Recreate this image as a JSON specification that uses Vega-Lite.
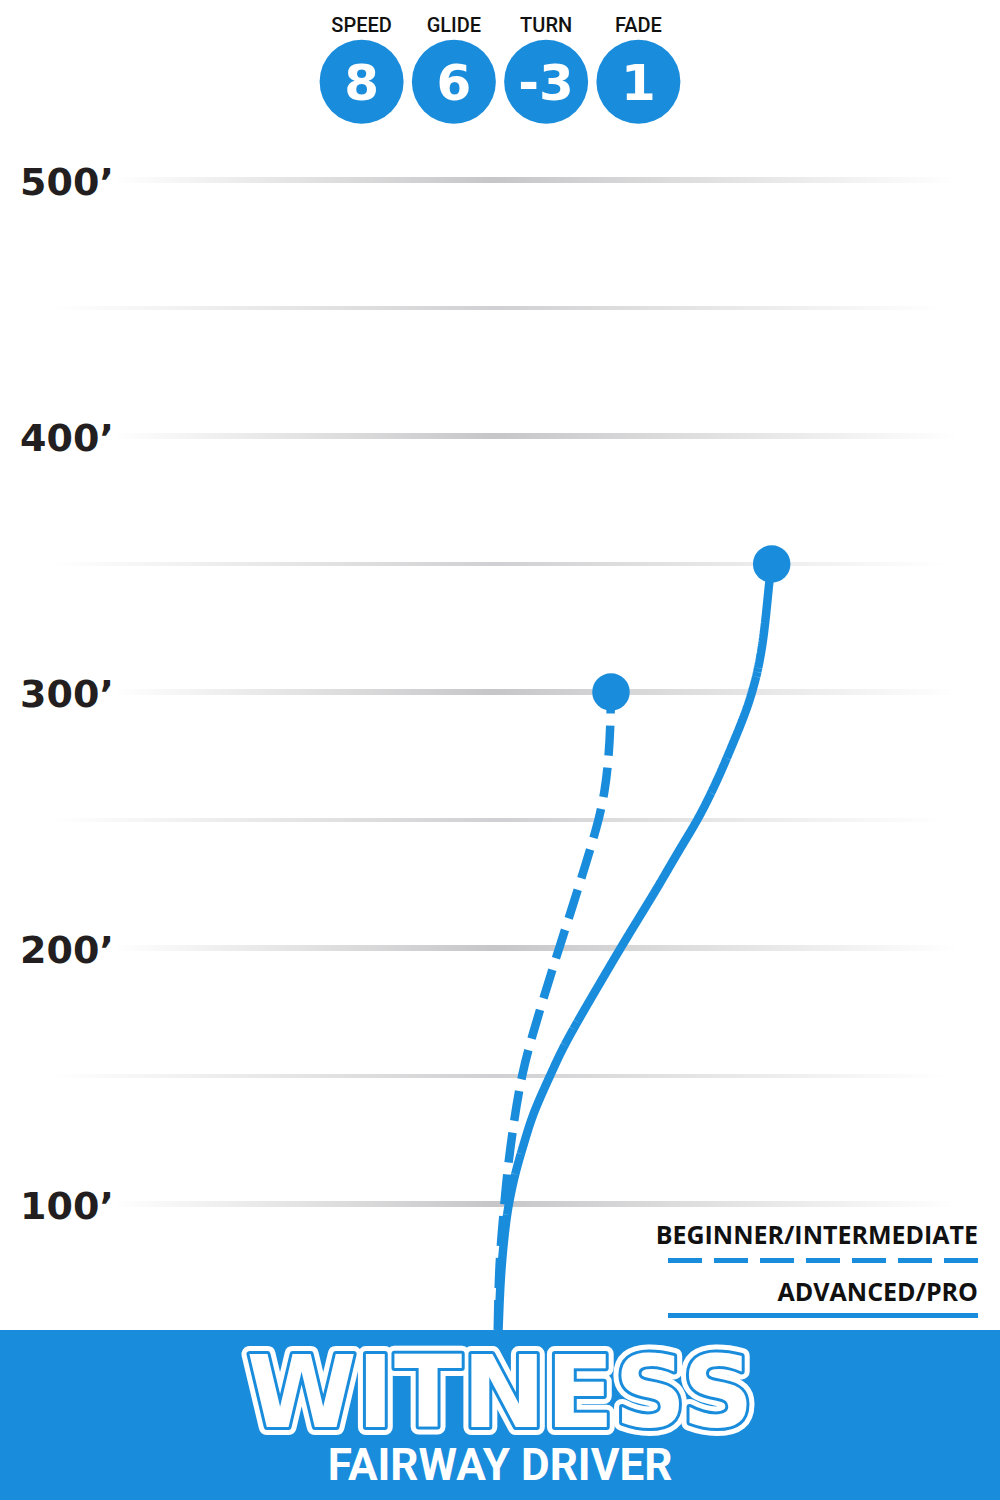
{
  "$schema": "https://vega.github.io/schema/vega-lite/v6.json",
  "width": 1000,
  "height": 1500,
  "autosize": {"type": "fit", "contains": "padding"},
  "padding": 0,
  "background": "#ffffff",
  "config": {"view": {"stroke": null}},
  "datasets": {
    "grid": [
      {"ft": 100, "major": true, "label": "100’"},
      {"ft": 150, "major": false, "label": ""},
      {"ft": 200, "major": true, "label": "200’"},
      {"ft": 250, "major": false, "label": ""},
      {"ft": 300, "major": true, "label": "300’"},
      {"ft": 350, "major": false, "label": ""},
      {"ft": 400, "major": true, "label": "400’"},
      {"ft": 450, "major": false, "label": ""},
      {"ft": 500, "major": true, "label": "500’"}
    ],
    "flight": [
      {"path": "Advanced/Pro", "i": 0, "lateral": 0.6, "distance": 50.8},
      {"path": "Advanced/Pro", "i": 1, "lateral": 1.17, "distance": 66.4},
      {"path": "Advanced/Pro", "i": 2, "lateral": 1.95, "distance": 78.1},
      {"path": "Advanced/Pro", "i": 3, "lateral": 3.13, "distance": 89.8},
      {"path": "Advanced/Pro", "i": 4, "lateral": 4.3, "distance": 98.8},
      {"path": "Advanced/Pro", "i": 5, "lateral": 7.03, "distance": 112.1},
      {"path": "Advanced/Pro", "i": 6, "lateral": 10.94, "distance": 125.0},
      {"path": "Advanced/Pro", "i": 7, "lateral": 14.06, "distance": 135.5},
      {"path": "Advanced/Pro", "i": 8, "lateral": 20.7, "distance": 150.0},
      {"path": "Advanced/Pro", "i": 9, "lateral": 25.27, "distance": 160.2},
      {"path": "Advanced/Pro", "i": 10, "lateral": 32.42, "distance": 173.0},
      {"path": "Advanced/Pro", "i": 11, "lateral": 40.23, "distance": 186.3},
      {"path": "Advanced/Pro", "i": 12, "lateral": 48.71, "distance": 200.8},
      {"path": "Advanced/Pro", "i": 13, "lateral": 59.77, "distance": 218.8},
      {"path": "Advanced/Pro", "i": 14, "lateral": 64.45, "distance": 226.6},
      {"path": "Advanced/Pro", "i": 15, "lateral": 71.88, "distance": 239.5},
      {"path": "Advanced/Pro", "i": 16, "lateral": 78.91, "distance": 250.8},
      {"path": "Advanced/Pro", "i": 17, "lateral": 86.13, "distance": 265.6},
      {"path": "Advanced/Pro", "i": 18, "lateral": 91.6, "distance": 278.5},
      {"path": "Advanced/Pro", "i": 19, "lateral": 97.07, "distance": 291.8},
      {"path": "Advanced/Pro", "i": 20, "lateral": 99.8, "distance": 300.4},
      {"path": "Advanced/Pro", "i": 21, "lateral": 101.95, "distance": 308.6},
      {"path": "Advanced/Pro", "i": 22, "lateral": 103.71, "distance": 318.4},
      {"path": "Advanced/Pro", "i": 23, "lateral": 104.88, "distance": 328.1},
      {"path": "Advanced/Pro", "i": 24, "lateral": 105.86, "distance": 337.9},
      {"path": "Advanced/Pro", "i": 25, "lateral": 106.45, "distance": 343.8},
      {"path": "Advanced/Pro", "i": 26, "lateral": 107.3, "distance": 350.0},
      {"path": "Beginner/Intermediate", "i": 0, "lateral": 0.3, "distance": 50.8},
      {"path": "Beginner/Intermediate", "i": 1, "lateral": 0.78, "distance": 76.2},
      {"path": "Beginner/Intermediate", "i": 2, "lateral": 2.34, "distance": 93.8},
      {"path": "Beginner/Intermediate", "i": 3, "lateral": 3.91, "distance": 112.1},
      {"path": "Beginner/Intermediate", "i": 4, "lateral": 6.64, "distance": 132.8},
      {"path": "Beginner/Intermediate", "i": 5, "lateral": 9.77, "distance": 151.2},
      {"path": "Beginner/Intermediate", "i": 6, "lateral": 14.06, "distance": 166.8},
      {"path": "Beginner/Intermediate", "i": 7, "lateral": 19.14, "distance": 183.6},
      {"path": "Beginner/Intermediate", "i": 8, "lateral": 24.02, "distance": 199.2},
      {"path": "Beginner/Intermediate", "i": 9, "lateral": 29.3, "distance": 215.6},
      {"path": "Beginner/Intermediate", "i": 10, "lateral": 34.57, "distance": 232.4},
      {"path": "Beginner/Intermediate", "i": 11, "lateral": 39.84, "distance": 250.0},
      {"path": "Beginner/Intermediate", "i": 12, "lateral": 42.19, "distance": 261.7},
      {"path": "Beginner/Intermediate", "i": 13, "lateral": 43.55, "distance": 273.4},
      {"path": "Beginner/Intermediate", "i": 14, "lateral": 44.34, "distance": 287.1},
      {"path": "Beginner/Intermediate", "i": 15, "lateral": 44.53, "distance": 300.0}
    ],
    "stats": [
      {"n": 1, "stat": "SPEED", "value": "8"},
      {"n": 2, "stat": "GLIDE", "value": "6"},
      {"n": 3, "stat": "TURN", "value": "-3"},
      {"n": 4, "stat": "FADE", "value": "1"}
    ]
  },
  "resolve": {"scale": {"x": "independent"}},
  "layer": [
    {
      "layer": [
        {
          "data": {"name": "grid"},
          "transform": [{"filter": "!datum.major"}],
          "mark": {
            "type": "rect", "yOffset": -2, "y2Offset": 2,
            "fill": {"gradient": "linear", "x1": 0, "y1": 0, "x2": 1, "y2": 0,
              "stops": [{"offset": 0, "color": "#ffffff"}, {"offset": 0.5, "color": "#d0d0d2"}, {"offset": 1, "color": "#ffffff"}]}
          },
          "encoding": {
            "x": {"datum": -175, "type": "quantitative", "scale": {"domain": [-194.140625, 196.484375], "nice": false, "zero": false}, "axis": null},
            "x2": {"datum": 175},
            "y": {"field": "ft", "type": "quantitative", "scale": {"domain": [-15.625, 570.3125], "nice": false, "zero": false}, "axis": null},
            "y2": {"field": "ft"}
          }
        },
        {
          "data": {"name": "grid"},
          "transform": [{"filter": "datum.major"}],
          "mark": {
            "type": "rect", "yOffset": -3, "y2Offset": 3,
            "fill": {"gradient": "linear", "x1": 0, "y1": 0, "x2": 1, "y2": 0,
              "stops": [{"offset": 0, "color": "#ffffff"}, {"offset": 0.45, "color": "#c6c6c8"}, {"offset": 1, "color": "#ffffff"}]}
          },
          "encoding": {
            "x": {"datum": -150, "type": "quantitative", "scale": {"domain": [-194.140625, 196.484375], "nice": false, "zero": false}, "axis": null},
            "x2": {"datum": 180},
            "y": {"field": "ft", "type": "quantitative", "scale": {"domain": [-15.625, 570.3125], "nice": false, "zero": false}, "axis": null},
            "y2": {"field": "ft"}
          }
        },
        {
          "data": {"name": "grid"},
          "transform": [{"filter": "datum.major"}],
          "mark": {"type": "text", "align": "left", "baseline": "alphabetic", "dy": 15, "font": "DejaVu Sans", "fontWeight": "bold", "fontSize": 38, "color": "#231f20"},
          "encoding": {
            "x": {"datum": -186.3, "type": "quantitative", "scale": {"domain": [-194.140625, 196.484375], "nice": false, "zero": false}, "axis": null},
            "y": {"field": "ft", "type": "quantitative", "scale": {"domain": [-15.625, 570.3125], "nice": false, "zero": false}, "axis": null},
            "text": {"field": "label"}
          }
        },
        {
          "data": {"name": "flight"},
          "mark": {"type": "line", "strokeWidth": 8.5, "interpolate": "basis", "color": "#1a8cdc"},
          "encoding": {
            "x": {"field": "lateral", "type": "quantitative", "scale": {"domain": [-194.140625, 196.484375], "nice": false, "zero": false}, "axis": null},
            "y": {"field": "distance", "type": "quantitative", "scale": {"domain": [-15.625, 570.3125], "nice": false, "zero": false}, "axis": null},
            "order": {"field": "i", "type": "quantitative"},
            "strokeDash": {"field": "path", "type": "nominal", "scale": {"domain": ["Beginner/Intermediate", "Advanced/Pro"], "range": [[30, 12], [1, 0]]}, "legend": null}
          }
        },
        {
          "data": {"name": "flight"},
          "transform": [
            {"joinaggregate": [{"op": "max", "field": "i", "as": "maxi"}], "groupby": ["path"]},
            {"filter": "datum.i == datum.maxi"}
          ],
          "mark": {"type": "point", "shape": "circle", "filled": true, "opacity": 1, "size": 1406, "color": "#1a8cdc"},
          "encoding": {
            "x": {"field": "lateral", "type": "quantitative", "scale": {"domain": [-194.140625, 196.484375], "nice": false, "zero": false}, "axis": null},
            "y": {"field": "distance", "type": "quantitative", "scale": {"domain": [-15.625, 570.3125], "nice": false, "zero": false}, "axis": null}
          }
        },
        {
          "data": {"values": [{}]},
          "mark": {"type": "rule", "strokeWidth": 5, "strokeDash": [34, 12], "color": "#1a8cdc"},
          "encoding": {
            "x": {"datum": 66.8, "type": "quantitative", "scale": {"domain": [-194.140625, 196.484375], "nice": false, "zero": false}, "axis": null},
            "x2": {"datum": 187.9},
            "y": {"datum": 77.9, "type": "quantitative", "scale": {"domain": [-15.625, 570.3125], "nice": false, "zero": false}, "axis": null}
          }
        },
        {
          "data": {"values": [{}]},
          "mark": {"type": "rule", "strokeWidth": 5, "color": "#1a8cdc"},
          "encoding": {
            "x": {"datum": 66.8, "type": "quantitative", "scale": {"domain": [-194.140625, 196.484375], "nice": false, "zero": false}, "axis": null},
            "x2": {"datum": 187.9},
            "y": {"datum": 56.4, "type": "quantitative", "scale": {"domain": [-15.625, 570.3125], "nice": false, "zero": false}, "axis": null}
          }
        },
        {
          "data": {"values": [{}]},
          "mark": {"type": "text", "text": "BEGINNER/INTERMEDIATE", "align": "right", "baseline": "alphabetic", "font": "Open Sans", "fontWeight": 700, "fontSize": 25, "color": "#111111"},
          "encoding": {
            "x": {"datum": 187.9, "type": "quantitative", "scale": {"domain": [-194.140625, 196.484375], "nice": false, "zero": false}, "axis": null},
            "y": {"datum": 84.4, "type": "quantitative", "scale": {"domain": [-15.625, 570.3125], "nice": false, "zero": false}, "axis": null}
          }
        },
        {
          "data": {"values": [{}]},
          "mark": {"type": "text", "text": "ADVANCED/PRO", "align": "right", "baseline": "alphabetic", "font": "Open Sans", "fontWeight": 700, "fontSize": 25, "color": "#111111"},
          "encoding": {
            "x": {"datum": 187.9, "type": "quantitative", "scale": {"domain": [-194.140625, 196.484375], "nice": false, "zero": false}, "axis": null},
            "y": {"datum": 62.1, "type": "quantitative", "scale": {"domain": [-15.625, 570.3125], "nice": false, "zero": false}, "axis": null}
          }
        },
        {
          "data": {"values": [{}]},
          "mark": {"type": "rect", "color": "#1a8cdc"},
          "encoding": {
            "x": {"datum": -194.140625, "type": "quantitative", "scale": {"domain": [-194.140625, 196.484375], "nice": false, "zero": false}, "axis": null},
            "x2": {"datum": 196.484375},
            "y": {"datum": -15.625, "type": "quantitative", "scale": {"domain": [-15.625, 570.3125], "nice": false, "zero": false}, "axis": null},
            "y2": {"datum": 50.78}
          }
        },
        {
          "data": {"values": [{}]},
          "encoding": {
            "x": {"datum": 1.2, "type": "quantitative", "scale": {"domain": [-194.140625, 196.484375], "nice": false, "zero": false}, "axis": null},
            "y": {"datum": 12.9, "type": "quantitative", "scale": {"domain": [-15.625, 570.3125], "nice": false, "zero": false}, "axis": null}
          },
          "layer": [
            {"mark": {"type": "text", "text": "WITNESS", "align": "center", "baseline": "alphabetic", "font": "DejaVu Sans", "fontWeight": "bold", "fontSize": 100, "fill": "#ffffff", "stroke": "#ffffff", "strokeWidth": 16, "strokeJoin": "round"}},
            {"mark": {"type": "text", "text": "WITNESS", "align": "center", "baseline": "alphabetic", "font": "DejaVu Sans", "fontWeight": "bold", "fontSize": 100, "fill": "#ffffff", "stroke": "#1a8cdc", "strokeWidth": 6, "strokeJoin": "round"}},
            {"mark": {"type": "text", "text": "WITNESS", "align": "center", "baseline": "alphabetic", "font": "DejaVu Sans", "fontWeight": "bold", "fontSize": 100, "fill": "#ffffff"}}
          ]
        },
        {
          "data": {"values": [{}]},
          "mark": {"type": "text", "text": "FAIRWAY DRIVER", "align": "center", "baseline": "alphabetic", "font": "Roboto", "fontWeight": 700, "fontSize": 44, "color": "#ffffff"},
          "encoding": {
            "x": {"datum": 1.2, "type": "quantitative", "scale": {"domain": [-194.140625, 196.484375], "nice": false, "zero": false}, "axis": null},
            "y": {"datum": -7.8, "type": "quantitative", "scale": {"domain": [-15.625, 570.3125], "nice": false, "zero": false}, "axis": null}
          }
        }
      ]
    },
    {
      "data": {"name": "stats"},
      "encoding": {
        "x": {"field": "n", "type": "quantitative", "scale": {"domain": [-2.919, 7.919], "nice": false, "zero": false}, "axis": null},
        "y": {"datum": 538.4, "type": "quantitative", "scale": {"domain": [-15.625, 570.3125], "nice": false, "zero": false}, "axis": null}
      },
      "layer": [
        {"mark": {"type": "point", "shape": "circle", "filled": true, "opacity": 1, "size": 7056, "color": "#1a8cdc"}},
        {
          "mark": {"type": "text", "align": "center", "baseline": "alphabetic", "dy": 18, "font": "DejaVu Sans", "fontWeight": "bold", "fontSize": 50, "color": "#ffffff"},
          "encoding": {"text": {"field": "value"}}
        },
        {
          "mark": {"type": "text", "align": "center", "baseline": "alphabetic", "dy": -50, "font": "Roboto", "fontWeight": 500, "fontSize": 20, "color": "#111111"},
          "encoding": {"text": {"field": "stat"}}
        }
      ]
    }
  ]
}
